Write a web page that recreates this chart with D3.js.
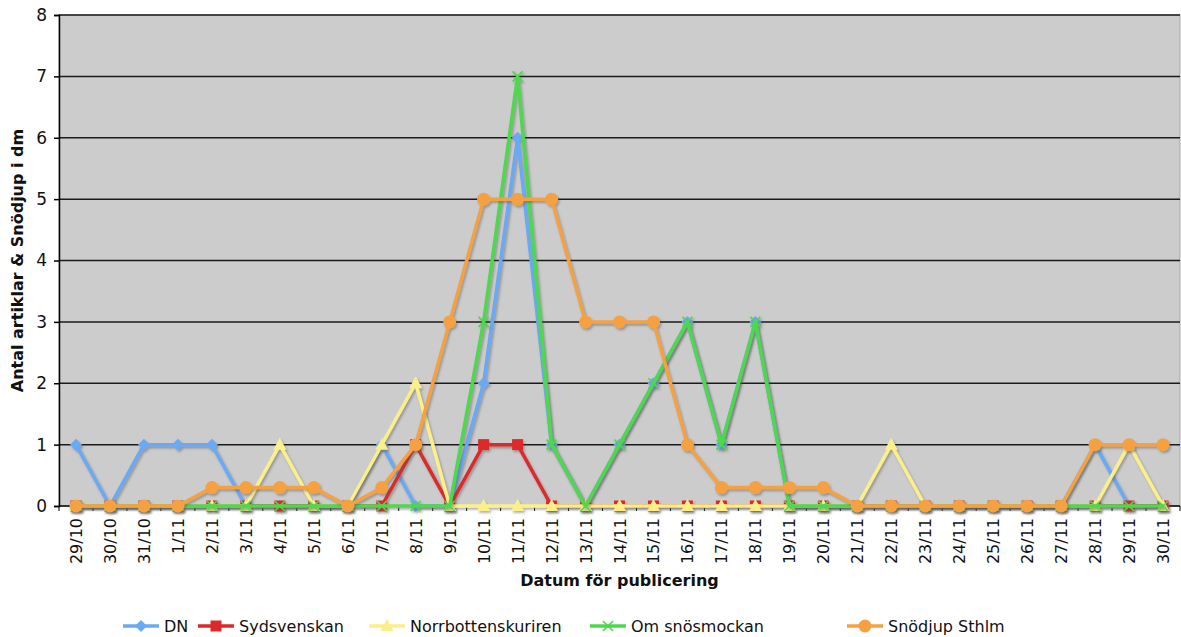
<!DOCTYPE html>
<html><head><meta charset="utf-8">
<script src="https://cdn.jsdelivr.net/npm/d3@7"></script>
<style>body{margin:0;background:#fff}svg{display:block}text{font-family:"DejaVu Sans",Verdana,sans-serif}</style>
</head><body>
<svg id="c" width="1181" height="637"></svg>
<script>
const categories = ["29/10","30/10","31/10","1/11","2/11","3/11","4/11","5/11","6/11","7/11","8/11","9/11","10/11","11/11","12/11","13/11","14/11","15/11","16/11","17/11","18/11","19/11","20/11","21/11","22/11","23/11","24/11","25/11","26/11","27/11","28/11","29/11","30/11"];
const seriesNames = ["DN","Sydsvenskan","Norrbottenskuriren","Om snösmockan","Snödjup Sthlm"];
const dn =           [1,0,1,1,1,0,0,0,0,1,0,0,2,6,1,0,1,2,3,1,3,0,0,0,0,0,0,0,0,0,1,0,0];
const sydsvenskan =  [0,0,0,0,0,0,0,0,0,0,1,0,1,1,0,0,0,0,0,0,0,0,0,0,0,0,0,0,0,0,0,0,0];
const norrbotten =   [0,0,0,0,0,0,1,0,0,1,2,0,0,0,0,0,0,0,0,0,0,0,0,0,1,0,0,0,0,0,0,1,0];
const snosmockan =   [0,0,0,0,0,0,0,0,0,0,0,0,3,7,1,0,1,2,3,1,3,0,0,0,0,0,0,0,0,0,0,0,0];
const snodjup =      [0,0,0,0,0.3,0.3,0.3,0.3,0,0.3,1,3,5,5,5,3,3,3,1,0.3,0.3,0.3,0.3,0,0,0,0,0,0,0,1,1,1];
const yTicks = [0,1,2,3,4,5,6,7,8];
const colors = ["#6aa9f4","#dc2a2a","#fbef8a","#4dd84d","#f5a142"];
const markers = ["diamond","square","triangle","x","circle"];
const allValues = [dn,sydsvenskan,norrbotten,snosmockan,snodjup];

const svg = d3.select("#c");
const L=59, R=1180, T=15, B=506;
const x = d3.scalePoint().domain(categories).range([L,R]).padding(0.5);
const y = d3.scaleLinear().domain([0,8]).range([B,T]);

const defs = svg.append("defs");
const f = defs.append("filter").attr("id","sh").attr("x","-10%").attr("y","-10%").attr("width","120%").attr("height","120%");
f.append("feDropShadow").attr("dx",1.5).attr("dy",2).attr("stdDeviation",1.2).attr("flood-color","#555").attr("flood-opacity",0.45);

svg.append("rect").attr("x",L).attr("y",T).attr("width",R-L).attr("height",B-T).attr("fill","#cccccc").attr("stroke","#aaa").attr("stroke-width",1);

// gridlines
svg.append("g").selectAll("line").data(yTicks.filter(d=>d>0)).join("line")
  .attr("x1",L).attr("x2",R).attr("y1",d=>y(d)).attr("y2",d=>y(d))
  .attr("stroke","#1a1a1a").attr("stroke-width",1.5);

// y axis
const ya = svg.append("g").attr("transform",`translate(${L},0)`).call(d3.axisLeft(y).tickValues(yTicks).tickSize(5).tickPadding(7).tickFormat(d3.format("d")));
ya.select(".domain").attr("stroke","#000").attr("stroke-width",1.5);
ya.selectAll(".tick line").attr("stroke","#000").attr("stroke-width",1.5);
ya.selectAll("text").attr("font-size",17).attr("fill","#111");

// x axis
const xa = svg.append("g").attr("transform",`translate(0,${B})`);
xa.append("line").attr("x1",L).attr("x2",R).attr("y1",0).attr("y2",0).attr("stroke","#000").attr("stroke-width",1.5);
const step = x.step();
xa.selectAll("line.t").data(d3.range(categories.length+1)).join("line").attr("class","t")
  .attr("x1",i=>L+i*step).attr("x2",i=>L+i*step).attr("y1",0).attr("y2",5).attr("stroke","#000").attr("stroke-width",1);
xa.selectAll("text").data(categories).join("text")
  .attr("transform",d=>`translate(${x(d)+6},12) rotate(-90)`)
  .attr("text-anchor","end").attr("font-size",16).attr("fill","#111").text(d=>d);

// titles
svg.append("text").attr("transform",`translate(23,${(T+B)/2}) rotate(-90)`).attr("text-anchor","middle")
  .attr("font-size",16).attr("font-weight","bold").attr("fill","#111").text("Antal artiklar & Snödjup i dm");
svg.append("text").attr("x",(L+R)/2).attr("y",586).attr("text-anchor","middle")
  .attr("font-size",16).attr("font-weight","bold").attr("fill","#111").text("Datum för publicering");

function drawMarker(g, type, cx, cy, color){
  if(type==="diamond"){
    g.append("path").attr("d",`M${cx},${cy-6}L${cx+6},${cy}L${cx},${cy+6}L${cx-6},${cy}Z`).attr("fill",color);
  } else if(type==="square"){
    g.append("rect").attr("x",cx-5.5).attr("y",cy-5.5).attr("width",11).attr("height",11).attr("fill",color);
  } else if(type==="triangle"){
    g.append("path").attr("d",`M${cx},${cy-7}L${cx+6.5},${cy+5}L${cx-6.5},${cy+5}Z`).attr("fill",color);
  } else if(type==="x"){
    g.append("path").attr("d",`M${cx-5},${cy-5}L${cx+5},${cy+5}M${cx-5},${cy+5}L${cx+5},${cy-5}`).attr("stroke",color).attr("stroke-width",1.6).attr("fill","none");
  } else {
    g.append("circle").attr("cx",cx).attr("cy",cy).attr("r",6.5).attr("fill",color);
  }
}

const line = d3.line().x((d,i)=>x(categories[i])).y(d=>y(d));
allValues.forEach((vals,si)=>{
  const g = svg.append("g").attr("filter","url(#sh)");
  g.append("path").attr("d",line(vals)).attr("fill","none").attr("stroke",colors[si]).attr("stroke-width",3.5).attr("stroke-linejoin","round");
  vals.forEach((v,i)=>drawMarker(g,markers[si],x(categories[i]),y(v),colors[si]));
});

// legend
const legendX = [123,198,369,590,847];
seriesNames.forEach((n,i)=>{
  const g = svg.append("g");
  const x0 = legendX[i], ly = 626;
  g.append("line").attr("x1",x0).attr("x2",x0+36).attr("y1",ly).attr("y2",ly).attr("stroke",colors[i]).attr("stroke-width",3.5);
  drawMarker(g,markers[i],x0+18,ly,colors[i]);
  g.append("text").attr("x",x0+41).attr("y",ly+6).attr("font-size",16).attr("fill","#111").text(n);
});
</script>
</body></html>
